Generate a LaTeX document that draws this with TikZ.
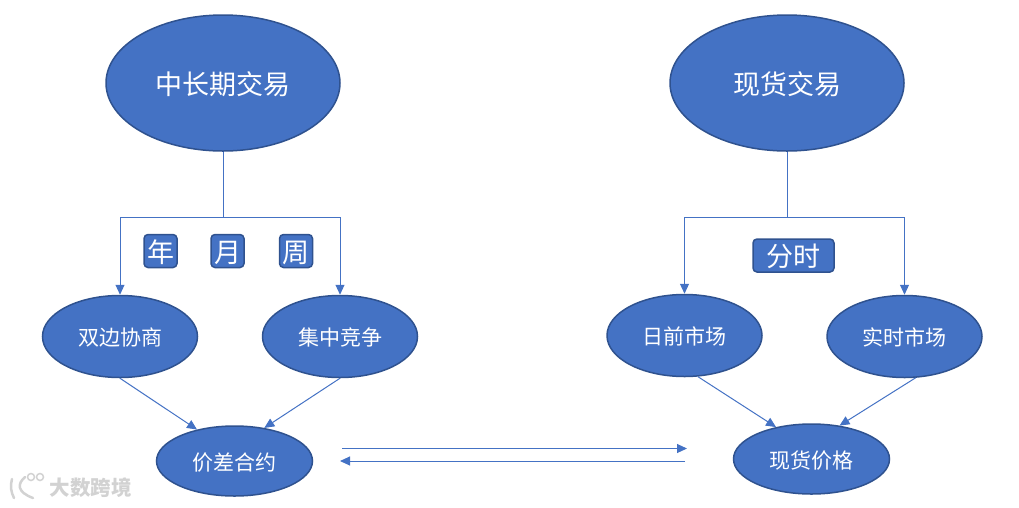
\documentclass[tikz,border=0pt]{standalone}
\usepackage{fontspec}
\setmainfont{Noto Sans CJK SC}
\usepackage{tikz}
\usetikzlibrary{shapes.geometric, arrows.meta}
\definecolor{fillblue}{HTML}{4472C4}
\definecolor{edgeblue}{HTML}{2F528F}
\definecolor{markgray}{HTML}{D2D2D2}
\tikzset{
  market/.style={ellipse, draw=edgeblue, fill=fillblue, line width=1.5pt, inner sep=0pt, text=white},
  largetext/.style={font=\fontsize{27pt}{30pt}\selectfont, text height=26pt, text depth=4pt},
  smalltext/.style={font=\fontsize{21pt}{24pt}\selectfont, text height=21pt, text depth=3pt},
  bigmarket/.style={market, largetext, minimum width=234pt, minimum height=136pt},
  smallmarket/.style={market, smalltext, minimum width=155pt, minimum height=82pt},
  pricemarket/.style={market, smalltext, minimum width=156pt, minimum height=70pt},
  termbox/.style={draw=edgeblue, fill=fillblue, line width=1.5pt, rounded corners=4pt, inner sep=0pt, text=white, minimum height=33pt, largetext},
  link/.style={draw=fillblue, line width=1pt, -{Triangle[length=10pt, width=9pt]}},
  plainlink/.style={draw=fillblue, line width=1pt},
  logoline/.style={draw=markgray, line width=2.5pt, line cap=round}
}
\begin{document}
\begin{tikzpicture}[x=1pt, y=-1pt]
    \useasboundingbox (0,0) rectangle (1019,507);

    % Draw main ellipses
    \node[bigmarket] (longterm) at (223,83) {中长期交易};
    \node[bigmarket] (spot) at (787,83) {现货交易};

    % Draw second row
    \node[smallmarket] (bilateral) at (120,336.5) {双边协商};
    \node[smallmarket] (auction) at (340,336.5) {集中竞争};
    \node[smallmarket] (dayahead) at (684.5,335.5) {日前市场};
    \node[smallmarket] (realtime) at (904.5,336.5) {实时市场};

    % Draw bottom row
    \node[pricemarket] (contract) at (234.5,461) {价差合约};
    \node[pricemarket] (spotprice) at (811.5,459) {现货价格};

    % Term boxes
    \foreach \n/\x/\t in {year/160.5/年, month/227.5/月, week/296/周} {
      \node[termbox, minimum width=33pt] (\n) at (\x,251) {\t};
    }
    \node[termbox, minimum width=81pt] (timeshare) at (793.5,255.5) {分时};

    % Draw brackets
    \coordinate (longbar) at (223,217);
    \coordinate (spotbar) at (787,217);
    \draw[plainlink] (longterm.south) -- (longbar);
    \draw[plainlink] (spot.south) -- (spotbar);
    \draw[link] (longbar) -| (bilateral.north);
    \draw[link] (longbar) -| (auction.north);
    \draw[link] (spotbar) -| (dayahead.north);
    \draw[link] (spotbar) -| (realtime.north);

    % Draw slanted arrows
    \draw[link] (bilateral.south) -- (contract.140);
    \draw[link] (auction.south) -- (contract.48);
    \draw[link] (dayahead.-72) -- (spotprice.138);
    \draw[link] (realtime.-75) -- (spotprice.50);

    % Arrows between the two prices
    \coordinate (topleft) at (342,448.5);
    \coordinate (topright) at (687,448.5);
    \coordinate (lowright) at (685,461);
    \coordinate (lowleft) at (340,461);
    \draw[link] (topleft) -- (topright);
    \draw[link] (lowright) -- (lowleft);

    % Watermark
    \draw[logoline] (12,479) .. controls (10,486) and (11,492) .. (14,498);
    \draw[logoline] (25,477) .. controls (17,484) and (17,492) .. (33,498);
    \draw[markgray, line width=1.5pt] (31,477) circle (3.5);
    \draw[markgray, line width=1.5pt] (40,477) circle (3.5);
    \node[text=markgray, font=\fontsize{20.5pt}{24pt}\selectfont\bfseries, inner sep=0pt] (mark) at (90.5,488) {大数跨境};
\end{tikzpicture}
\end{document}
